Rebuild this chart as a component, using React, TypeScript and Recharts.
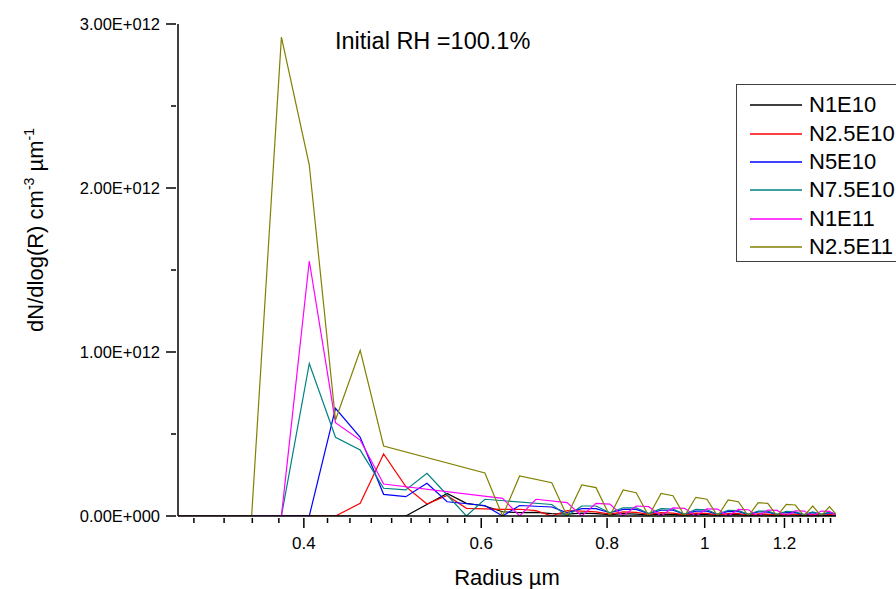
import { LineChart, Line, XAxis, YAxis, Legend } from 'recharts';

const FONT = '"Liberation Sans", Arial, Helvetica, sans-serif';

// radius bins (um)
const radius = [
  0.28, 0.305, 0.33, 0.355, 0.38, 0.405, 0.43, 0.455, 0.48, 0.505, 0.53,
  0.555, 0.58, 0.605, 0.63, 0.655, 0.68, 0.705, 0.73, 0.755, 0.78, 0.805,
  0.83, 0.855, 0.88, 0.905, 0.93, 0.955, 0.98, 1.005, 1.03, 1.055, 1.08,
  1.105, 1.13, 1.155, 1.18, 1.205, 1.23, 1.255, 1.28, 1.305, 1.33, 1.355,
];

// dN/dlog(R), in units of 1E+012
const n1e10 = [
  0, 0, 0, 0, 0, 0, 0, 0, 0, 0,
  null, 0.138, 0.077, 0.061, 0.026, 0.02, 0.022, 0.015, 0.012, 0.018, 0.015,
  0.008, 0.014, 0.012, 0.006, 0.012, 0.01, 0.005, 0.01, 0.009, 0.004, 0.009,
  0.008, 0.004, 0.008, 0.007, 0.003, 0.007, 0.006, 0.003, 0.006, 0.003, 0.005, 0.003,
];
const n25e10 = [
  0, 0, 0, 0, 0, 0, 0,
  0.077, 0.378, 0.179, 0.073, 0.125, 0.047, null, 0.041, 0.041, 0.033, 0,
  0.033, 0.03, 0.025, 0.012, 0.025, 0.022, 0.01, 0.02, 0.018, 0.008, 0.018,
  0.016, 0.007, 0.015, 0.014, 0.006, 0.013, 0.012, 0.005, 0.012, 0.011, 0.005,
  0.01, 0.005, 0.009, 0.004,
];
const n5e10 = [
  0, 0, 0, 0, 0, 0,
  0.657, 0.48, 0.132, 0.118, 0.199, 0.087, null, 0.064, 0, 0.064, null, 0.055,
  0.02, 0.045, 0.045, 0.02, 0.04, 0.04, 0.015, 0.035, 0.035, 0.012, 0.03, 0.03,
  0.01, 0.028, 0.027, 0.01, 0.025, 0.024, 0.01, 0.022, 0.021, 0.008, 0.02, 0.01,
  0.019, 0.01,
];
const n75e10 = [
  0, 0, 0, 0, 0,
  0.93, 0.48, 0.402, 0.169, 0.159, 0.26, 0.128, 0, 0.102, null, null, null,
  0.07, 0, 0.061, 0.061, 0.02, 0.05, 0.05, 0.015, 0.045, 0.042, 0.01, 0.04,
  0.038, 0.01, 0.035, 0.033, 0.01, 0.03, 0.03, 0.01, 0.028, 0.026, 0.008,
  0.025, 0.01, 0.024, 0.01,
];
const n1e11 = [
  0, 0, 0, 0, 0,
  1.555, 0.569, 0.463, 0.195, null, null, null, null, null,
  0.108, 0, 0.102, null, 0.082, 0, 0.077, 0.073, 0, 0.061, 0.057, 0, 0.05,
  0.047, 0, 0.044, 0.042, 0, 0.04, 0.038, 0, 0.036, 0.034, 0, 0.032, 0.03, 0,
  0.03, 0.028, 0,
];
const n25e11 = [
  0, 0, 0, 0,
  2.92, 2.14, 0.585, 1.01, 0.427, null, null, null, null,
  0.262, 0, 0.244, null, 0.203, 0, 0.189, 0.173, 0, 0.159, 0.142, 0, 0.138,
  0.124, 0, 0.114, 0.102, 0, 0.098, 0.087, 0, 0.081, 0.077, 0, 0.071, 0.067,
  0, 0.061, 0, 0.057, 0,
];

const series = [
  { key: 'n1e10', name: 'N1E10', color: '#000000', values: n1e10 },
  { key: 'n25e10', name: 'N2.5E10', color: '#ff0000', values: n25e10 },
  { key: 'n5e10', name: 'N5E10', color: '#0000ff', values: n5e10 },
  { key: 'n75e10', name: 'N7.5E10', color: '#008080', values: n75e10 },
  { key: 'n1e11', name: 'N1E11', color: '#ff00ff', values: n1e11 },
  { key: 'n25e11', name: 'N2.5E11', color: '#808000', values: n25e11 },
];

const xMajor = [0.4, 0.6, 0.8, 1, 1.2];
const yMajor = [0, 1, 2, 3];

const data = radius.map((r, i) => {
  const row: Record<string, number | null> = { r };
  series.forEach((s) => {
    const v = s.values[i];
    row[s.key] = v === null ? null : v * 1e12;
  });
  return row;
});

// 8 minor ticks between majors
const xTicks = Array.from({ length: 47 }, (_, i) => 0.4 + ((i - 4) * 0.2) / 9);
const yTicks = [0, 0.5, 1, 1.5, 2, 2.5, 3].map((v) => v * 1e12);

const isXMajor = (v: number) => xMajor.some((m) => Math.abs(m - v) < 1e-6);
const isYMajor = (v: number) => yMajor.some((m) => Math.abs(m * 1e12 - v) < 1);

const XTick = (props: any) => {
  const { x, y, payload } = props;
  const major = isXMajor(payload.value);
  return (
    <g>
      <line x1={x} x2={x} y1={y} y2={y + (major ? 10 : 5)} stroke="#000" strokeWidth={1.5} />
      {major && (
        <text x={x} y={y + 31} textAnchor="middle" fontSize={17} fill="#000" fontFamily={FONT}>
          {String(Number(payload.value.toFixed(1)))}
        </text>
      )}
    </g>
  );
};

const YTick = (props: any) => {
  const { x, y, payload } = props;
  const major = isYMajor(payload.value);
  const n = payload.value / 1e12;
  const label = n === 0 ? '0.00E+000' : `${n.toFixed(2)}E+012`;
  return (
    <g>
      <line x1={x - (major ? 10 : 5)} x2={x} y1={y} y2={y} stroke="#000" strokeWidth={1.5} />
      {major && (
        <text x={x - 16} y={y} dy="0.35em" textAnchor="end" fontSize={16.5} fill="#000" fontFamily={FONT}>
          {label}
        </text>
      )}
    </g>
  );
};

const XTitle = (props: any) => {
  const vb = props.viewBox || { x: 178, y: 516, width: 658 };
  return (
    <text x={vb.x + vb.width / 2} y={vb.y + 69} textAnchor="middle" fontSize={22} fill="#000" fontFamily={FONT}>
      Radius µm
    </text>
  );
};

const YTitle = () => (
  <text
    transform="translate(43, 230) rotate(-90)"
    textAnchor="middle"
    fontSize={22}
    fill="#000"
    fontFamily={FONT}
  >
    <tspan>dN/dlog(R) cm</tspan>
    <tspan dy={-9} fontSize={14}>-3</tspan>
    <tspan dy={9}> µm</tspan>
    <tspan dy={-9} fontSize={14}>-1</tspan>
  </text>
);

// legend drawn in the series' own order
const LegendBox = () => (
  <div
    style={{
      width: 200,
      height: 178,
      border: '1px solid #404040',
      background: '#fff',
      boxSizing: 'border-box',
      paddingTop: 6,
      fontFamily: FONT,
    }}
  >
    {series.map((s) => (
      <div key={s.key} style={{ display: 'flex', alignItems: 'center', height: 28.4 }}>
        <svg width={52} height={4} style={{ marginLeft: 13, display: 'block' }}>
          <line x1={0} x2={52} y1={2} y2={2} stroke={s.color} strokeWidth={1.5} />
        </svg>
        <span style={{ marginLeft: 7, fontSize: 22, lineHeight: '28px', color: '#000', whiteSpace: 'nowrap' }}>
          {s.name}
        </span>
      </div>
    ))}
  </div>
);

export default function App() {
  return (
    <div
      style={{
        position: 'absolute',
        left: 0,
        top: 0,
        width: 896,
        height: 589,
        overflow: 'hidden',
        background: '#fff',
        fontFamily: FONT,
      }}
    >
      <LineChart width={896} height={589} data={data} margin={{ top: 24, right: 60, bottom: 0, left: 0 }}>
        <XAxis
          dataKey="r"
          type="number"
          scale="log"
          domain={[0.3, 1.35]}
          allowDataOverflow
          ticks={xTicks}
          interval={0}
          tick={<XTick />}
          tickSize={0}
          tickLine={false}
          height={73}
          axisLine={{ stroke: '#000', strokeWidth: 1.5 }}
          label={<XTitle />}
        />
        <YAxis
          type="number"
          domain={[0, 3e12]}
          allowDataOverflow
          ticks={yTicks}
          interval={0}
          tick={<YTick />}
          tickSize={0}
          tickLine={false}
          width={178}
          axisLine={{ stroke: '#000', strokeWidth: 1.5 }}
          label={<YTitle />}
        />
        <Legend
          layout="horizontal"
          align="center"
          verticalAlign="middle"
          wrapperStyle={{ left: 736, top: 84, width: 200, height: 178 }}
          content={<LegendBox />}
        />
        {series.map((s) => (
          <Line
            key={s.key}
            dataKey={s.key}
            name={s.name}
            type="linear"
            stroke={s.color}
            strokeWidth={1.2}
            dot={false}
            activeDot={false}
            connectNulls
            isAnimationActive={false}
          />
        ))}
      </LineChart>
      <div
        style={{
          position: 'absolute',
          left: 335,
          top: 30,
          fontSize: 23.5,
          lineHeight: '23px',
          color: '#000',
          whiteSpace: 'nowrap',
        }}
      >
        Initial RH =100.1%
      </div>
    </div>
  );
}
